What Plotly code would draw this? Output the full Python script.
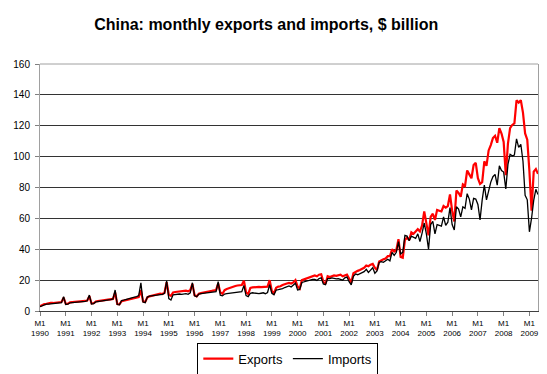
import plotly.graph_objects as go

# ---- data (US$ billion, monthly, Jan 1990 - May 2009) ----
years = list(range(1990, 2010))
last_month_2009 = 5

exports = [
    3.0, 3.8, 4.5, 4.6, 5.0, 5.2, 5.2, 5.4, 5.5, 5.6, 5.8, 8.6,          # 1990
    4.6, 4.8, 5.6, 5.8, 6.0, 6.1, 6.2, 6.3, 6.4, 6.5, 6.8, 9.6,          # 1991
    4.9, 5.0, 6.2, 6.4, 6.6, 6.8, 7.0, 7.1, 7.3, 7.5, 7.8, 12.0,         # 1992
    4.5, 4.3, 6.3, 6.7, 7.0, 7.3, 7.5, 7.8, 8.2, 8.4, 9.0, 13.5,         # 1993
    6.2, 5.8, 8.8, 9.5, 9.8, 10.3, 10.5, 10.8, 11.3, 11.0, 11.8, 18.6,   # 1994
    10.5, 9.8, 12.0, 12.3, 12.5, 12.8, 12.8, 13.0, 13.2, 12.8, 13.5, 17.5,  # 1995
    10.2, 9.5, 11.2, 11.6, 12.0, 12.4, 12.6, 12.8, 13.0, 13.2, 13.5, 17.8,  # 1996
    12.0, 11.2, 13.5, 14.2, 14.8, 15.3, 15.8, 16.2, 16.5, 16.6, 16.8, 19.6,  # 1997
    12.0, 11.0, 15.0, 15.3, 15.5, 15.8, 15.6, 15.5, 15.6, 15.3, 15.8, 20.0,  # 1998
    13.0, 11.5, 15.0, 15.8, 16.0, 16.8, 17.5, 17.8, 18.2, 17.8, 18.5, 20.0,  # 1999
    15.8, 14.5, 20.0, 20.5, 21.5, 22.0, 22.5, 22.8, 23.0, 22.5, 23.5, 23.8,  # 2000
    19.0, 17.5, 22.5, 22.0, 22.3, 23.0, 22.8, 23.2, 23.5, 22.5, 22.8, 23.5,  # 2001
    21.0, 18.5, 24.5, 25.5, 26.0, 26.5, 27.0, 28.0, 29.5, 29.0, 30.0, 30.5,  # 2002
    28.0, 26.5, 32.0, 33.0, 33.5, 34.0, 35.5, 35.5, 40.0, 38.5, 39.5, 46.5,  # 2003
    35.0, 34.5, 46.0, 47.5, 46.0, 51.0, 50.0, 51.5, 53.0, 51.5, 55.5, 64.5,  # 2004
    56.0, 49.0, 61.0, 63.0, 59.0, 65.5, 65.0, 64.5, 68.0, 67.0, 68.0, 75.5,  # 2005
    65.0, 58.0, 78.0, 76.5, 74.0, 82.0, 81.0, 91.0, 88.5, 86.0, 94.5, 96.0,  # 2006
    86.0, 82.3, 83.5, 97.0, 94.0, 104.0, 107.5, 112.0, 113.5, 109.0, 118.5, 115.0,  # 2007
    109.5, 88.0, 108.5, 118.5, 120.5, 121.5, 136.5, 135.0, 136.5, 128.5, 115.0, 111.0,  # 2008
    90.5, 65.0, 90.3, 92.0, 88.8,                                          # 2009
]

imports = [
    2.8, 3.5, 4.2, 4.4, 4.5, 4.6, 4.7, 4.8, 4.9, 5.0, 5.4, 9.3,          # 1990
    4.2, 4.4, 5.3, 5.4, 5.5, 5.6, 5.8, 5.9, 6.0, 6.2, 6.6, 10.3,         # 1991
    4.6, 4.8, 5.9, 6.2, 6.5, 6.7, 6.8, 7.0, 7.2, 7.4, 7.8, 13.6,         # 1992
    4.2, 4.0, 6.8, 7.0, 7.5, 8.0, 8.3, 8.5, 9.0, 9.3, 10.0, 18.3,        # 1993
    5.8, 5.4, 9.0, 9.6, 9.8, 10.0, 10.3, 10.5, 11.0, 10.8, 11.5, 19.6,   # 1994
    8.0, 7.1, 10.5, 10.8, 10.9, 11.0, 10.8, 11.0, 11.2, 10.8, 11.8, 18.3,  # 1995
    9.8, 9.3, 11.0, 11.2, 11.4, 11.5, 11.6, 11.8, 11.9, 12.0, 12.5, 19.0,  # 1996
    10.2, 9.8, 11.0, 11.2, 11.4, 11.5, 11.5, 11.8, 11.9, 12.0, 12.5, 16.5,  # 1997
    10.0, 9.3, 11.5, 11.8, 11.5, 11.6, 11.2, 11.5, 11.8, 11.2, 12.0, 17.0,  # 1998
    11.5, 10.5, 13.5, 13.8, 14.0, 14.5, 15.2, 15.5, 16.2, 15.5, 16.8, 18.0,  # 1999
    13.6, 14.0, 18.5, 19.0, 19.5, 19.5, 20.0, 20.5, 20.5, 19.8, 21.0, 21.5,  # 2000
    17.5, 17.0, 21.0, 21.0, 21.5, 21.0, 20.8, 21.0, 20.5, 20.0, 21.5, 22.0,  # 2001
    19.0, 17.0, 22.5, 24.0, 23.5, 24.0, 25.0, 25.5, 27.0, 25.0, 26.5, 28.0,  # 2002
    24.5, 26.0, 31.5, 32.0, 31.5, 32.5, 33.5, 32.5, 38.0, 36.0, 38.0, 45.0,  # 2003
    37.0, 38.0, 49.0, 48.5, 45.5, 48.5, 47.5, 47.0, 50.0, 45.0, 50.5, 57.0,  # 2004
    50.0, 40.0, 56.0, 58.0, 50.0, 56.0, 55.5, 55.0, 61.0, 55.5, 57.5, 67.0,  # 2005
    56.0, 52.5, 67.5, 66.0, 61.0, 67.5, 66.5, 76.0, 72.5, 65.5, 73.0, 72.5,  # 2006
    69.0, 59.0, 72.0, 81.5, 72.0, 78.0, 83.5, 87.0, 88.5, 81.5, 94.0, 91.0,  # 2007
    90.0, 79.0, 95.0, 101.5, 100.5, 101.0, 111.5, 106.0, 108.0, 97.0, 75.0, 72.0,  # 2008
    51.3, 60.1, 71.7, 78.8, 75.4,                                          # 2009
]

months = [f"{y}-{m:02d}" for y in years for m in range(1, 13)
          if not (y == 2009 and m > last_month_2009)]
tick_vals = [f"{y}-01" for y in years]
tick_text = [f"M1<br>{y}" for y in years]
y_ticks = list(range(0, 161, 20))

FONT = "Arial, Liberation Sans, sans-serif"

fig = go.Figure()
fig.add_trace(go.Scatter(x=months, y=exports, name="Exports", mode="lines",
                         line=dict(color="#ff0000", width=2.2)))
fig.add_trace(go.Scatter(x=months, y=imports, name="Imports", mode="lines",
                         line=dict(color="#000000", width=1.3)))

# page body has an 8px margin, so the figure is sized/offset to compensate
fig.update_layout(
    width=539, height=366,
    margin=dict(l=32, r=9, t=56, b=63, pad=0, autoexpand=False),
    paper_bgcolor="white", plot_bgcolor="white",
    font=dict(family=FONT, color="black"),
    title=dict(text="<b>China: monthly exports and imports, $ billion</b>",
               x=0.479, xanchor="center", xref="container",
               y=0.954, yanchor="middle", yref="container",
               font=dict(size=16, family=FONT, color="black")),
    showlegend=True,
    legend=dict(orientation="h", x=0.4976, xanchor="center", xref="paper",
                y=-0.128, yanchor="top", yref="paper",
                bordercolor="black", borderwidth=1, bgcolor="white",
                font=dict(size=13, family=FONT, color="black"),
                itemwidth=30, tracegroupgap=0),
    xaxis=dict(type="category", categoryorder="array", categoryarray=months,
               range=[0, len(months) - 1],
               tickmode="array", tickvals=tick_vals, ticktext=tick_text,
               ticks="outside", ticklen=4, tickcolor="#808080", tickangle=0,
               tickfont=dict(size=8, family=FONT, color="black"),
               showgrid=False, zeroline=False, automargin=False,
               showline=True, linecolor="#404040", linewidth=1),
    yaxis=dict(range=[0, 160], tickmode="array", tickvals=y_ticks,
               ticks="outside", ticklen=4, tickcolor="#808080",
               tickfont=dict(size=10, family=FONT, color="black"),
               showgrid=True, gridcolor="#333333", gridwidth=1,
               zeroline=False, showline=True, linecolor="#a0a0a0",
               linewidth=1, mirror=True, ticklabelstandoff=3, automargin=False),
    shapes=[dict(type="line", xref="paper", yref="paper", x0=0, x1=1, y0=1, y1=1,
                 line=dict(color="#a0a0a0", width=1), layer="above")],
)

fig.write_html("out.html")
